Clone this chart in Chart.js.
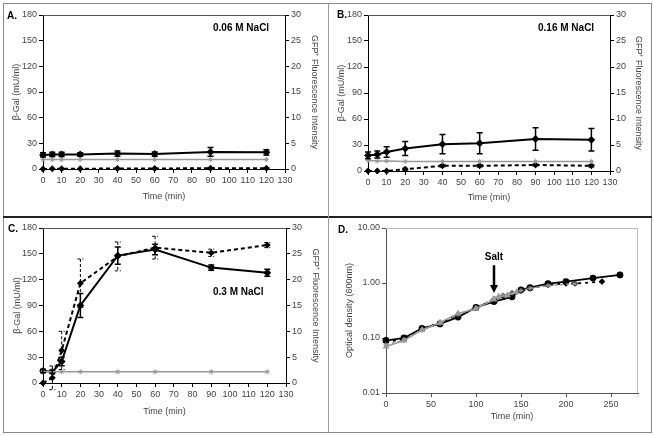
<!DOCTYPE html>
<html>
<head>
<meta charset="utf-8">
<script src="https://cdn.jsdelivr.net/npm/chart.js@4.4.0/dist/chart.umd.min.js"></script>
<style>
  body { margin: 0; background: #fff; }
  #fig { position: relative; width: 654px; height: 435px; font-family: 'Liberation Sans', Arial, sans-serif; }
  #fig canvas { position: absolute; }
  .line { position: absolute; }
  .lbl { position: absolute; font-weight: bold; font-size: 10px; line-height: 12px; color: #000; white-space: nowrap; }
</style>
</head>
<body>
<div id="fig">
  <div class="line" style="left:3px;top:3px;width:647px;height:428px;border:1px solid #888;"></div>
  <div class="line" style="left:3px;top:216px;width:649px;height:2px;background:#222;"></div>
  <div class="line" style="left:328px;top:3px;width:1px;height:429px;background:#999;"></div>

  <canvas id="chartA" width="322" height="212"></canvas>
  <canvas id="chartB" width="320" height="212"></canvas>
  <canvas id="chartC" width="322" height="212"></canvas>
  <canvas id="chartD" width="319" height="210"></canvas>

  <div class="lbl" style="left:7px;top:10px;">A.</div>
  <div class="lbl" style="left:337px;top:9px;">B.</div>
  <div class="lbl" style="left:8px;top:223px;">C.</div>
  <div class="lbl" style="left:338px;top:224px;">D.</div>
  <div class="lbl" style="left:213px;top:22px;">0.06 M NaCl</div>
  <div class="lbl" style="left:538px;top:22px;">0.16 M NaCl</div>
  <div class="lbl" style="left:213px;top:286px;">0.3 M NaCl</div>
</div>

<script>
// ---- data ----
// panels A-C share the sampling times (min)
const timeAC = [0, 5, 10, 20, 40, 60, 90, 120];

// beta-Gal (left axis, mU/ml) with error bars
const galA = [16.5, 17, 17, 17, 18, 17.5, 20, 19.5];
const galErrA = [2.5, 2.5, 2.5, 2, 3, 2.5, 5, 3];
const galB = [18, 19, 22, 26, 31, 32, 37, 36];
const galErrB = [4, 4, 6, 8, 11, 12, 13, 13];
const galC = [14, 13, 25, 90, 148, 155, 134, 128];
const galErrC = [2, 2, 5, 14, 10, 6, 3, 4];

// GFP+ fluorescence (right axis)
const gfpA = [0, 0.05, 0.05, 0.05, 0.1, 0.1, 0.15, 0.15];
const gfpErrA = [0, 0, 0, 0, 0, 0, 0.15, 0.1];
const gfpB = [0, 0, 0, 0.35, 1, 1, 1.15, 1];
const gfpErrB = [0, 0, 0, 0.2, 0.25, 0.25, 0.2, 0.25];
const gfpC = [0, 1, 6.3, 19.3, 24.5, 26.2, 25.2, 26.7];
const gfpErrC = [0, 2.3, 3.7, 4.7, 2.8, 2.2, 0.7, 0.5];

// grey control line (left axis)
const ctrlA = [11, 11, 11, 11, 11, 11, 11, 11];
const ctrlB = [12, 11.5, 11.5, 11, 11, 11, 11, 11];
const ctrlC = [13, 13, 13, 13, 13, 13, 13, 13];

// panel D: optical density (600nm)
const timeD1 = [0, 20, 40, 60, 80, 100, 120, 140, 150, 160, 180, 200, 230, 260];
const odD1 = [0.09, 0.10, 0.15, 0.18, 0.24, 0.36, 0.46, 0.56, 0.75, 0.82, 0.97, 1.06, 1.23, 1.40];
const timeD2 = [0, 20, 40, 60, 80, 100, 120, 130, 140, 150, 160, 180, 200, 210, 240];
const odD2 = [0.085, 0.095, 0.145, 0.19, 0.26, 0.35, 0.50, 0.58, 0.65, 0.72, 0.80, 0.92, 0.98, 0.98, 1.06];
const timeD3 = [0, 20, 40, 60, 80, 100, 120, 125, 135, 145];
const odD3 = [0.07, 0.09, 0.14, 0.19, 0.28, 0.34, 0.50, 0.56, 0.60, 0.68];
const timeD4 = [0, 20, 40, 60, 80, 100, 120, 130, 140, 150, 160, 180, 210];
const odD4 = [0.075, 0.092, 0.14, 0.185, 0.27, 0.35, 0.53, 0.60, 0.66, 0.73, 0.80, 0.90, 0.97];
const saltTime = 120;

const xTicksD = [0, 50, 100, 150, 200, 250];
const yTicksD = [0.01, 0.1, 1, 10];

const GREY = '#999';
const FONT_FAMILY = "'Liberation Sans', Arial, sans-serif";
Chart.defaults.font.family = FONT_FAMILY;
Chart.defaults.font.size = 9;
Chart.defaults.color = '#444';

const pts = (xs, ys) => xs.map((x, i) => ({ x: x, y: ys[i] }));

// error bars from dataset.errors, drawn through the dataset's y scale
const errorBars = {
  id: 'errorBars',
  afterDatasetsDraw(chart) {
    const ctx = chart.ctx;
    chart.data.datasets.forEach((ds, i) => {
      if (!ds.errors) return;
      const meta = chart.getDatasetMeta(i);
      const ys = chart.scales[meta.yAxisID];
      ctx.save();
      ctx.strokeStyle = ds.borderColor;
      ctx.lineWidth = ds.errorWidth || 1.5;
      ctx.setLineDash(ds.errorDash || []);
      meta.data.forEach((pt, j) => {
        const e = ds.errors[j];
        if (!e) return;
        const v = ds.data[j].y;
        const top = ys.getPixelForValue(v + e);
        const bot = ys.getPixelForValue(v - e);
        ctx.beginPath();
        ctx.moveTo(pt.x, top); ctx.lineTo(pt.x, bot);
        ctx.moveTo(pt.x - 3, top); ctx.lineTo(pt.x + 3, top);
        ctx.moveTo(pt.x - 3, bot); ctx.lineTo(pt.x + 3, bot);
        ctx.stroke();
      });
      ctx.restore();
    });
  }
};

// plot-area edges that are not axes
const frame = {
  id: 'frame',
  beforeDatasetsDraw(chart, args, opts) {
    const { ctx, chartArea: a } = chart;
    ctx.save();
    ctx.lineWidth = 1;
    if (opts.top) {
      ctx.strokeStyle = opts.top;
      ctx.beginPath(); ctx.moveTo(a.left, a.top + 0.5); ctx.lineTo(a.right, a.top + 0.5); ctx.stroke();
    }
    if (opts.right) {
      ctx.strokeStyle = opts.right;
      ctx.beginPath(); ctx.moveTo(a.right - 0.5, a.top); ctx.lineTo(a.right - 0.5, a.bottom); ctx.stroke();
    }
    ctx.restore();
  }
};

const saltArrow = {
  id: 'saltArrow',
  afterDatasetsDraw(chart) {
    const { ctx, scales: { x, y } } = chart;
    const px = x.getPixelForValue(saltTime);
    const tip = y.getPixelForValue(0.66);
    const tail = y.getPixelForValue(2.1);
    ctx.save();
    ctx.strokeStyle = '#000';
    ctx.fillStyle = '#000';
    ctx.lineWidth = 2.5;
    ctx.beginPath(); ctx.moveTo(px, tail); ctx.lineTo(px, tip - 7); ctx.stroke();
    ctx.beginPath(); ctx.moveTo(px - 4, tip - 8); ctx.lineTo(px + 4, tip - 8); ctx.lineTo(px, tip); ctx.closePath(); ctx.fill();
    ctx.font = 'bold 10px ' + FONT_FAMILY;
    ctx.textAlign = 'center';
    ctx.textBaseline = 'middle';
    ctx.fillText('Salt', px, y.getPixelForValue(2.95));
    ctx.restore();
  }
};

function axisGrid(color) {
  return { drawOnChartArea: false, drawTicks: true, tickLength: 4, color: color };
}

// g: canvas box + plot box + title centres, all in page pixels
function place(id, g) {
  const c = document.getElementById(id);
  c.style.left = g.L + 'px';
  c.style.top = g.T + 'px';
  return {
    ctx: c,
    leftW: g.pl - g.L,
    rightW: g.L + g.W - g.pr,
    bottomH: g.T + g.H - g.pb,
    padTop: g.pt - g.T,
    yPad: (g.yt - g.L) - 5.4,
    y2Pad: (g.L + g.W - g.y2t) - 5.4,
    xPad: (g.T + g.H - g.xt) - 5.4
  };
}

function dualChart(id, g, gal, galErr, gfp, gfpErr, ctrl) {
  const p = place(id, g);
  return new Chart(p.ctx, {
    type: 'line',
    data: {
      datasets: [
        { data: pts(timeAC, ctrl), yAxisID: 'y', borderColor: GREY, backgroundColor: GREY,
          borderWidth: 1.5, pointStyle: 'star', pointRadius: 2.5, pointBorderWidth: 1, clip: false },
        { data: pts(timeAC, gfp), yAxisID: 'y2', borderColor: '#000', backgroundColor: '#000',
          borderWidth: 2, borderDash: [4, 3], pointStyle: 'rectRot', pointRadius: 2, clip: false,
          errors: gfpErr, errorDash: [3, 2], errorWidth: 1 },
        { data: pts(timeAC, gal), yAxisID: 'y', borderColor: '#000', backgroundColor: '#000',
          borderWidth: 2, pointStyle: 'rectRot', pointRadius: 2.5, clip: false,
          errors: galErr, errorWidth: 1.5 }
      ]
    },
    options: {
      responsive: false,
      animation: false,
      devicePixelRatio: 1,
      layout: { padding: { top: p.padTop, left: 0, right: 0, bottom: 0 } },
      plugins: { legend: { display: false }, tooltip: { enabled: false }, frame: { top: '#555' } },
      scales: {
        x: {
          type: 'linear', min: 0, max: 130,
          ticks: { stepSize: 10, autoSkip: false, maxRotation: 0, padding: 2 },
          grid: axisGrid('#000'), border: { color: '#000' },
          title: { display: true, text: 'Time (min)', padding: { top: 0, bottom: p.xPad } },
          afterFit: s => { s.height = p.bottomH; }
        },
        y: {
          min: 0, max: 180,
          ticks: { stepSize: 30, padding: 2 },
          grid: axisGrid('#000'), border: { color: '#000' },
          title: { display: true, text: 'β-Gal (mU/ml)', padding: { top: p.yPad, bottom: 0 } },
          afterFit: s => { s.width = p.leftW; }
        },
        y2: {
          position: 'right', min: 0, max: 30,
          ticks: { stepSize: 5, padding: 2 },
          grid: axisGrid('#000'), border: { color: '#000' },
          title: { display: true, text: 'GFP⁺ Fluorescence Intensity', padding: { top: p.y2Pad, bottom: 0 } },
          afterFit: s => { s.width = p.rightW; }
        }
      }
    },
    plugins: [frame, errorBars]
  });
}

dualChart('chartA', { L: 4, T: 4, W: 322, H: 212, pl: 43, pr: 285, pt: 15, pb: 169, yt: 17, y2t: 314, xt: 197 },
  galA, galErrA, gfpA, gfpErrA, ctrlA);
dualChart('chartB', { L: 330, T: 4, W: 320, H: 212, pl: 368, pr: 610, pt: 15, pb: 171, yt: 342, y2t: 638, xt: 198 },
  galB, galErrB, gfpB, gfpErrB, ctrlB);
dualChart('chartC', { L: 4, T: 219, W: 322, H: 212, pl: 43, pr: 286, pt: 228, pb: 383, yt: 18, y2t: 315, xt: 412 },
  galC, galErrC, gfpC, gfpErrC, ctrlC);

// panel D: growth curves on a log axis
(function () {
  const g = { L: 330, T: 219, W: 319, H: 210, pl: 386, pr: 638, pt: 228, pb: 393, yt: 350, y2t: 0, xt: 417 };
  const p = place('chartD', g);
  new Chart(p.ctx, {
    type: 'line',
    data: {
      datasets: [
        { data: pts(timeD3, odD3), borderColor: GREY, backgroundColor: GREY, borderWidth: 1.5,
          pointStyle: 'triangle', pointRadius: 2.5, clip: false },
        { data: pts(timeD4, odD4), borderColor: GREY, backgroundColor: GREY, borderWidth: 1.5,
          borderDash: [3, 3], pointStyle: 'star', pointRadius: 2.5, pointBorderWidth: 1, clip: false },
        { data: pts(timeD2, odD2), borderColor: '#000', backgroundColor: '#000', borderWidth: 1.8,
          borderDash: [3, 4], pointStyle: 'rectRot', pointRadius: 2, clip: false },
        { data: pts(timeD1, odD1), borderColor: '#000', backgroundColor: '#000', borderWidth: 1.8,
          pointStyle: 'circle', pointRadius: 2.5, clip: false }
      ]
    },
    options: {
      responsive: false,
      animation: false,
      devicePixelRatio: 1,
      layout: { padding: { top: p.padTop, left: 0, right: p.rightW, bottom: 0 } },
      plugins: { legend: { display: false }, tooltip: { enabled: false }, frame: { top: '#bbb', right: '#bbb' } },
      scales: {
        x: {
          type: 'linear', min: 0, max: 280,
          afterBuildTicks: s => { s.ticks = xTicksD.map(v => ({ value: v })); },
          ticks: { autoSkip: false, maxRotation: 0, padding: 2 },
          grid: axisGrid('#555'), border: { color: '#555' },
          title: { display: true, text: 'Time (min)', padding: { top: 0, bottom: p.xPad } },
          afterFit: s => { s.height = p.bottomH; }
        },
        y: {
          type: 'logarithmic', min: 0.01, max: 10,
          afterBuildTicks: s => { s.ticks = yTicksD.map(v => ({ value: v })); },
          ticks: { padding: 2, callback: v => Number(v).toFixed(2) },
          grid: axisGrid('#555'), border: { color: '#555' },
          title: { display: true, text: 'Optical density (600nm)', padding: { top: p.yPad, bottom: 0 } },
          afterFit: s => { s.width = p.leftW; }
        }
      }
    },
    plugins: [frame, saltArrow]
  });
})();
</script>
</body>
</html>
